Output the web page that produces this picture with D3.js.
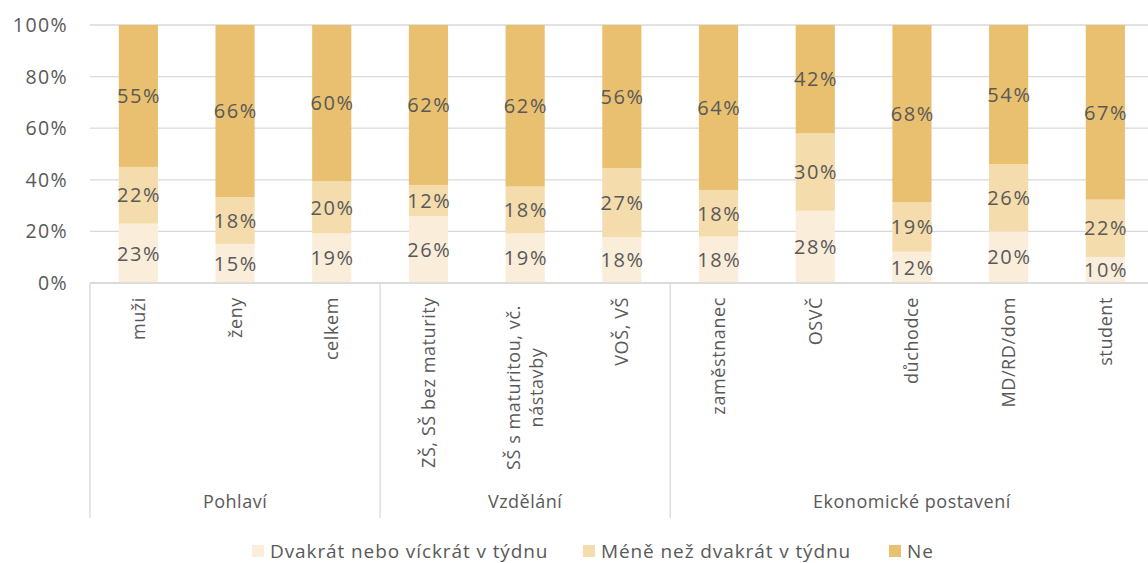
<!DOCTYPE html>
<html>
<head>
<meta charset="utf-8">
<script src="https://cdn.jsdelivr.net/npm/d3@7"></script>
<style>
  body { margin: 0; background: #fff; }
  svg { font-family: "Open Sans", sans-serif; }
  text { fill: #595959; }
</style>
</head>
<body>
<div id="chart"></div>
<script>
// data
const categories = ["muži", "ženy", "celkem", "ZŠ, SŠ bez maturity", "SŠ s maturitou, vč.|nástavby", "VOŠ, VŠ",
    "zaměstnanec", "OSVČ", "důchodce", "MD/RD/dom", "student"];
const groups = [
    {name: "Pohlaví", from: 0, to: 3},
    {name: "Vzdělání", from: 3, to: 6},
    {name: "Ekonomické postavení", from: 6, to: 11}
];
const seriesNames = ["Dvakrát nebo víckrát v týdnu", "Méně než dvakrát v týdnu", "Ne"];
const twiceOrMore = [23, 15, 19, 26, 19, 18, 18, 28, 12, 20, 10];
const lessThanTwice = [22, 18, 20, 12, 18, 27, 18, 30, 19, 26, 22];
const no = [55, 66, 60, 62, 62, 56, 64, 42, 68, 54, 67];
const yTicks = [0, 0.2, 0.4, 0.6, 0.8, 1];

const colors = ["#faeedb", "#f4dcac", "#e9c06f"];

const width = 1148, height = 563;
const margin = {top: 25, left: 90, bottom: 280};
const step = 96.7; // category band step
const plotW = step * categories.length;
const plotH = height - margin.top - margin.bottom;

const svg = d3.select("#chart").append("svg")
    .attr("width", width)
    .attr("height", height);

const g = svg.append("g")
    .attr("transform", `translate(${margin.left},${margin.top})`);

const table = categories.map((c, i) => ({cat: c, s0: twiceOrMore[i], s1: lessThanTwice[i], s2: no[i]}));
const stacked = d3.stack().keys(["s0", "s1", "s2"]).offset(d3.stackOffsetExpand)(table);

const x = d3.scaleBand()
    .domain(categories)
    .range([0, plotW])
    .paddingInner(0.595)
    .paddingOuter(0.2975);

const y = d3.scaleLinear()
    .domain([0, 1])
    .range([plotH, 0]);

// gridlines
g.append("g")
    .selectAll("line")
    .data(yTicks)
    .join("line")
    .attr("x1", 0)
    .attr("x2", plotW)
    .attr("y1", d => y(d))
    .attr("y2", d => y(d))
    .attr("stroke", "#d9d9d9")
    .attr("stroke-width", 1.3);

// y labels
g.append("g")
    .selectAll("text")
    .data(yTicks)
    .join("text")
    .attr("x", -22)
    .attr("y", d => y(d))
    .attr("dy", "0.36em")
    .attr("text-anchor", "end")
    .style("font-size", "19.5px")
    .style("letter-spacing", "1.4px")
    .text(d => d3.format(".0%")(d));

// bars
const layers = g.selectAll(".layer")
    .data(stacked)
    .join("g")
    .attr("class", "layer")
    .attr("fill", (d, i) => colors[i]);

layers.selectAll("rect")
    .data(d => d)
    .join("rect")
    .attr("x", d => x(d.data.cat))
    .attr("y", d => y(d[1]))
    .attr("width", x.bandwidth())
    .attr("height", d => y(d[0]) - y(d[1]));

// data labels
const labelValues = [twiceOrMore, lessThanTwice, no];
stacked.forEach((layer, li) => {
    g.append("g")
        .selectAll("text")
        .data(layer)
        .join("text")
        .attr("x", d => x(d.data.cat) + x.bandwidth() / 2 + 0.8)
        .attr("y", d => y((d[0] + d[1]) / 2))
        .attr("dy", "0.36em")
        .attr("text-anchor", "middle")
        .style("font-size", "20px")
        .style("letter-spacing", "1.6px")
        .text((d, i) => labelValues[li][i] + "%");
});

// x axis baseline
g.append("line")
    .attr("x1", 0).attr("x2", plotW)
    .attr("y1", plotH).attr("y2", plotH)
    .attr("stroke", "#d9d9d9")
    .attr("stroke-width", 1.3);

// group separators
const sepX = [0, groups[1].from * step, groups[2].from * step];
g.append("g")
    .selectAll("line")
    .data(sepX)
    .join("line")
    .attr("x1", d => d).attr("x2", d => d)
    .attr("y1", plotH).attr("y2", plotH + 235)
    .attr("stroke", "#d9d9d9")
    .attr("stroke-width", 1.3);

// category labels (rotated)
const catLabels = g.append("g")
    .selectAll("g")
    .data(categories)
    .join("g")
    .attr("transform", d => `translate(${x(d) + x.bandwidth() / 2},${plotH + 14}) rotate(-90)`);

catLabels.each(function(d) {
    const lines = d.split("|");
    const sel = d3.select(this);
    const lh = 23;
    const texts = lines.map((ln, i) => sel.append("text")
        .attr("x", 0)
        .attr("y", (i - (lines.length - 1) / 2) * lh)
        .attr("dy", "0.36em")
        .style("font-size", "18px")
        .style("letter-spacing", "0.6px")
        .text(ln));
    if (lines.length === 1) {
        texts[0].attr("text-anchor", "end");
    } else {
        const maxLen = d3.max(texts, t => t.node().getComputedTextLength());
        texts.forEach(t => t.attr("text-anchor", "middle").attr("x", -maxLen / 2 - 8));
    }
});

// group labels
g.append("g")
    .selectAll("text")
    .data(groups)
    .join("text")
    .attr("x", d => (d.from + d.to) / 2 * step)
    .attr("y", plotH + 219)
    .attr("dy", "0.36em")
    .attr("text-anchor", "middle")
    .style("font-size", "18px")
    .style("letter-spacing", "0.5px")
    .text(d => d.name);

// legend
const legendX = [252, 583, 889];
const legend = svg.append("g")
    .selectAll("g")
    .data(seriesNames)
    .join("g")
    .attr("transform", (d, i) => `translate(${legendX[i]},551)`);

legend.append("rect")
    .attr("x", 0).attr("y", -6)
    .attr("width", 12).attr("height", 12)
    .attr("fill", (d, i) => colors[i]);

legend.append("text")
    .attr("x", 18)
    .attr("y", 0)
    .attr("dy", "0.36em")
    .style("font-size", "19px")
    .style("letter-spacing", "0.9px")
    .text(d => d);
</script>
</body>
</html>
